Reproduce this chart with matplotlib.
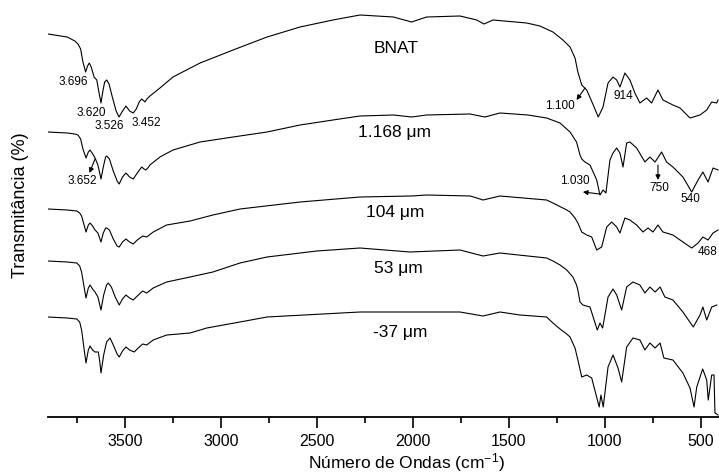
import matplotlib
matplotlib.use("Agg")
import matplotlib.pyplot as plt
from matplotlib.ticker import MultipleLocator

plt.rcParams['font.family'] = ['Liberation Sans', 'DejaVu Sans']
plt.rcParams['mathtext.fontset'] = 'custom'
plt.rcParams['mathtext.rm'] = 'Liberation Sans'
plt.rcParams['mathtext.it'] = 'Liberation Sans:italic'

# ---- data (wavenumber in cm-1, transmittance in arbitrary stacked units) ----
bnat_wn = [3900, 3800, 3760, 3744, 3730, 3718, 3704, 3694, 3685, 3675, 3660, 3646, 3635, 3624,
           3615, 3605, 3594, 3582, 3565, 3545, 3530, 3515, 3494, 3475, 3456, 3440, 3425, 3412,
           3400, 3395, 3385, 3369, 3317, 3249, 3108, 2936, 2759, 2587, 2416, 2275, 2101, 2006,
           1928, 1754, 1667, 1629, 1582, 1407, 1338, 1270, 1218, 1181, 1155, 1140, 1120, 1094,
           1060, 1034, 1009, 983, 957, 938, 921, 895, 869, 843, 817, 782, 756, 723, 697, 645,
           608, 556, 504, 469, 443, 417, 410]
bnat_t = [383, 380, 376, 373, 368, 355, 345, 351, 354, 350, 340, 337, 325, 314,
          325, 335, 337, 333, 320, 306, 300, 305, 311, 306, 304, 308, 315, 318,
          316, 315, 318, 321, 329, 340, 354, 367, 380, 390, 397, 402, 400, 395,
          400, 401, 397, 393, 397, 394, 391, 385, 377, 370, 359, 345, 332, 327,
          312, 300, 310, 334, 340, 337, 330, 344, 337, 324, 314, 319, 314, 327, 317, 312,
          309, 299, 302, 307, 315, 314, 317]

s1168_wn = [3900, 3800, 3760, 3744, 3730, 3718, 3702, 3690, 3681, 3670, 3655, 3640, 3624, 3612,
            3600, 3594, 3580, 3560, 3540, 3529, 3512, 3494, 3475, 3456, 3435, 3412, 3400, 3391,
            3380, 3369, 3317, 3249, 3108, 2936, 2759, 2587, 2416, 2275, 2100, 2006, 1928, 1702,
            1624, 1546, 1400, 1303, 1233, 1181, 1147, 1129, 1120, 1103, 1077, 1042, 1025, 1009,
            994, 973, 957, 938, 921, 905, 886, 869, 834, 791, 765, 738, 704, 678, 645, 593,
            547, 514, 489, 462, 436, 410]
s1168_t = [285, 284, 283, 282, 278, 268, 259, 265, 267, 264, 259, 252, 238, 250,
           260, 261, 258, 246, 236, 233, 240, 244, 240, 238, 244, 250, 248, 247,
           249, 252, 260, 267, 275, 280, 285, 292, 297, 301, 302, 300, 302, 303,
           300, 304, 302, 299, 294, 285, 275, 262, 258, 255, 252, 237, 222, 227,
           224, 257, 264, 269, 264, 250, 274, 275, 269, 255, 260, 255, 265, 255, 250, 240,
           225, 237, 245, 235, 249, 247]

s104_wn = [3900, 3800, 3750, 3735, 3725, 3712, 3702, 3690, 3681, 3668, 3655, 3640, 3624, 3612,
           3600, 3594, 3580, 3560, 3540, 3529, 3512, 3494, 3475, 3456, 3435, 3407, 3386, 3352,
           3282, 3160, 3041, 2900, 2587, 2275, 2006, 1928, 1700, 1634, 1546, 1303, 1270, 1198,
           1181, 1155, 1140, 1120, 1094, 1068, 1042, 1016, 990, 964, 938, 921, 895, 869, 834,
           801, 775, 749, 723, 697, 645, 593, 547, 514, 489, 462, 436, 410]
s104_t = [208, 207, 206, 204, 201, 192, 185, 192, 194, 191, 187, 184, 175, 184,
          189, 189, 187, 178, 171, 170, 175, 178, 175, 173, 177, 181, 180, 185,
          192, 196, 202, 208, 215, 220, 221, 222, 221, 217, 221, 217, 214, 207,
          205, 199, 194, 185, 182, 180, 167, 170, 190, 195, 190, 184, 199, 197, 192,
          185, 189, 185, 192, 185, 182, 175, 169, 174, 180, 177, 184, 187]

s53_wn = [3900, 3800, 3750, 3735, 3725, 3712, 3702, 3690, 3681, 3668, 3655, 3640, 3624, 3610,
          3595, 3586, 3570, 3550, 3529, 3512, 3494, 3475, 3456, 3435, 3407, 3386, 3352, 3282,
          3160, 3041, 2900, 2759, 2500, 2275, 2015, 1754, 1634, 1546, 1303, 1270, 1233, 1198,
          1166, 1147, 1140, 1129, 1114, 1077, 1039, 1025, 1011, 983, 957, 938, 912, 886, 853,
          817, 791, 765, 738, 712, 687, 645, 593, 539, 504, 489, 469, 443, 417]
s53_t = [156, 155, 154, 151, 145, 130, 119, 129, 132, 128, 125, 120, 107, 122,
         132, 134, 130, 120, 112, 118, 122, 119, 117, 121, 126, 124, 129, 135,
         140, 145, 154, 160, 166, 169, 165, 167, 161, 164, 159, 156, 152, 147,
         140, 132, 127, 115, 112, 110, 87, 94, 89, 120, 128, 122, 107, 130, 135,
         132, 124, 130, 125, 130, 120, 117, 105, 90, 102, 110, 97, 110, 112]

s37_wn = [3900, 3800, 3750, 3735, 3725, 3712, 3702, 3690, 3681, 3668, 3655, 3638, 3630, 3624,
          3610, 3595, 3577, 3560, 3540, 3529, 3512, 3494, 3475, 3451, 3430, 3407, 3386, 3352,
          3282, 3160, 3073, 2900, 2759, 2275, 1754, 1634, 1546, 1442, 1303, 1270, 1233, 1198,
          1181, 1155, 1140, 1120, 1094, 1068, 1029, 1020, 1008, 983, 957, 931, 912, 886, 853,
          817, 791, 765, 738, 712, 692, 645, 593, 556, 535, 521, 490, 469, 461, 443, 431,
          426, 410]
s37_t = [100, 99, 98, 95, 87, 68, 54, 67, 71, 67, 65, 65, 55, 44,
         62, 75, 79, 72, 63, 60, 66, 70, 67, 65, 69, 73, 72, 77,
         82, 84, 89, 95, 100, 105, 105, 101, 105, 102, 100, 94, 88, 83,
         80, 69, 57, 40, 42, 39, 10, 22, 10, 50, 62, 49, 35, 70, 79,
         77, 67, 74, 69, 74, 59, 57, 44, 29, 10, 30, 48, 37, 17, 42, 42,
         4, 2]

series_wn = [bnat_wn, s1168_wn, s104_wn, s53_wn, s37_wn]
series_t = [bnat_t, s1168_t, s104_t, s53_t, s37_t]

sample_labels = ['BNAT', '1.168 μm', '104 μm', '53 μm', '-37 μm']
sample_label_wn = [2085, 2093, 2093, 2077, 2067]
sample_label_t = [369, 285, 204, 149, 85]

peak_texts = ['3.696', '3.620', '3.526', '3.452', '914', '540', '468']
peak_text_wn = [3770, 3672, 3579, 3390, 903, 554, 465]
peak_text_t = [335, 304, 291, 294, 321, 218, 165]

arrow_texts = ['3.652', '1.100', '1.030', '750']
arrow_text_wn = [3724, 1233, 1155, 718]
arrow_text_t = [236, 311, 236, 229]
arrow_tail_wn = [3655, 1103, 1025, 723]
arrow_tail_t = [258, 329, 223, 252]
arrow_head_wn = [3684, 1147, 1114, 723]
arrow_head_t = [244, 317, 225, 237]

x_ticks = [3500, 3000, 2500, 2000, 1500, 1000, 500]

# ---- figure ----
W, H = 719, 475
fig = plt.figure(figsize=(W / 100, H / 100), dpi=100)
ax = fig.add_axes([48 / W, 58 / H, 671 / W, 412 / H])

for wn, t in zip(series_wn, series_t):
    ax.plot(wn, t, color='black', lw=0.8)

for lab, x, y in zip(sample_labels, sample_label_wn, sample_label_t):
    ax.text(x, y, lab, fontsize=12.5, ha='center', va='center')

for lab, x, y in zip(peak_texts, peak_text_wn, peak_text_t):
    ax.text(x, y, lab, fontsize=8.5, ha='center', va='center')

for lab, x, y, tx, ty, hx, hy in zip(arrow_texts, arrow_text_wn, arrow_text_t,
                                      arrow_tail_wn, arrow_tail_t, arrow_head_wn, arrow_head_t):
    ax.text(x, y, lab, fontsize=8.5, ha='center', va='center')
    ax.annotate('', xy=(hx, hy), xytext=(tx, ty),
                arrowprops=dict(arrowstyle='-|>', color='black', lw=0.8,
                                mutation_scale=7, shrinkA=0, shrinkB=0))

ax.set_xlim(3900, 405)
ax.set_ylim(0, 412)
ax.set_xticks(x_ticks)
ax.set_xticklabels([str(v) for v in x_ticks])
ax.xaxis.set_minor_locator(MultipleLocator(250))
ax.tick_params(axis='x', which='major', direction='out', length=8, width=1.2, labelsize=11.5, pad=4)
ax.tick_params(axis='x', which='minor', direction='out', length=4.5, width=1.2)
ax.set_yticks([])
for s in ['left', 'right', 'top']:
    ax.spines[s].set_visible(False)
ax.spines['bottom'].set_linewidth(1.3)

fig.text(406 / W, 1 - 463 / H, 'Número de Ondas (cm$^{-1}$)', fontsize=12.5, ha='center', va='center')
fig.text(21 / W, 1 - 205 / H, 'Transmitância (%)', fontsize=13, ha='center', va='center', rotation=90)

fig.savefig('out.png', dpi=100)
